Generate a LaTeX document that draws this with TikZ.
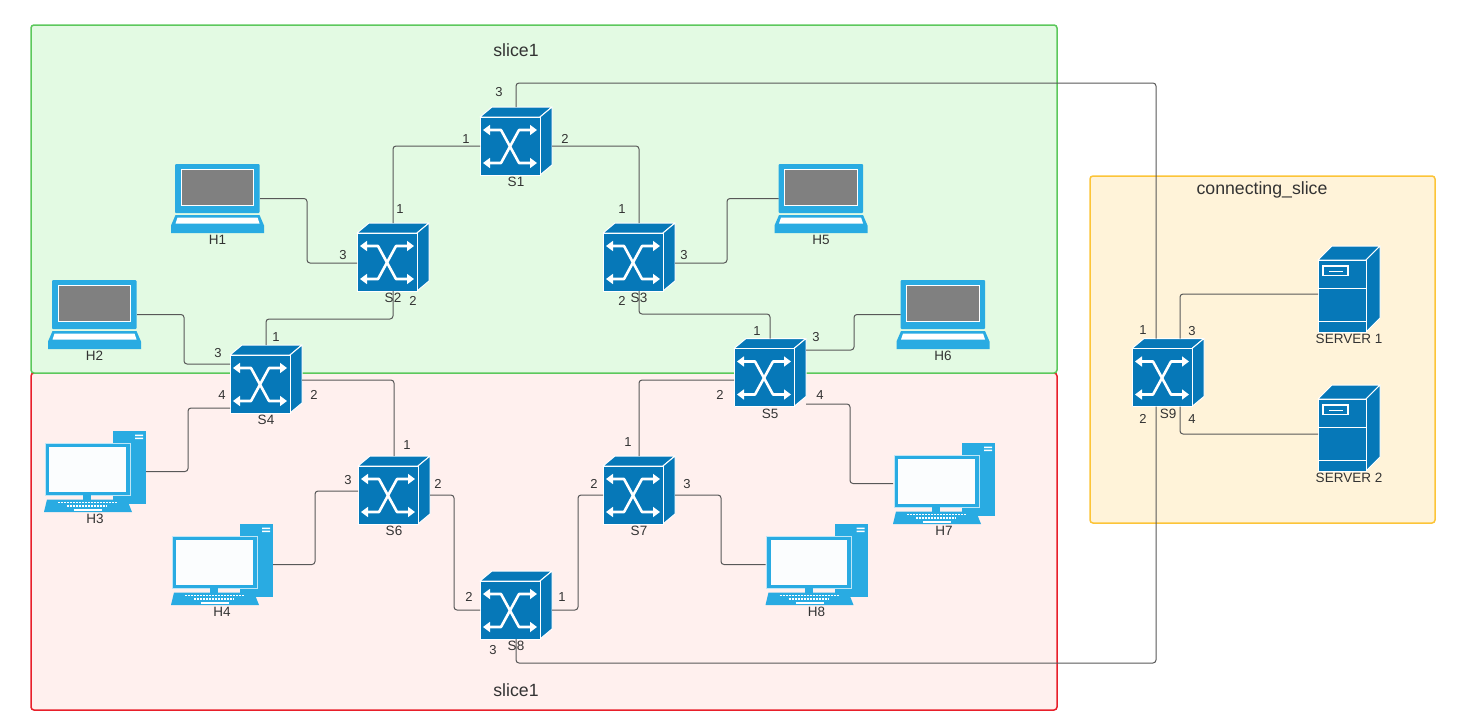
\documentclass[tikz,border=0pt]{standalone}
\usepackage{fontspec}
\setmainfont{Liberation Sans}
\usetikzlibrary{arrows.meta}
\definecolor{devblue}{HTML}{0678B8}
\definecolor{hostblue}{HTML}{29ABE2}
\definecolor{wirecol}{HTML}{585858}
\definecolor{lblcol}{HTML}{333333}
\definecolor{greenfill}{HTML}{E3FAE3}
\definecolor{greenline}{HTML}{5CC85C}
\definecolor{redfill}{HTML}{FFF0EE}
\definecolor{redline}{HTML}{E81F2A}
\definecolor{yellowfill}{HTML}{FFF3D9}
\definecolor{yellowline}{HTML}{FCC438}
\tikzset{
  slicebox/.style={line width=1.5pt,rounded corners=3pt},
  wire/.style={draw=wirecol,line width=1pt,rounded corners=3pt},
  devbox/.style={minimum width=#1,inner sep=0pt,outer sep=0pt},
  devname/.style={font=\fontsize{13.5}{13.5}\selectfont,text=lblcol,inner sep=0pt,label distance=2pt},
  portlbl/.style={font=\fontsize{13}{13}\selectfont,text=lblcol,inner sep=0pt},
  slicelbl/.style={font=\fontsize{17.7}{18}\selectfont,text=lblcol,inner sep=0pt},
  face/.style={fill=devblue,draw=white,line width=1pt,line join=round},
  switcharrow/.style={white,line width=2.6pt,line join=round,{Triangle[width=10pt,length=7pt]}-{Triangle[width=10pt,length=7pt]}},
  switchicon/.pic={
    \path[face] (-36,-24) -- (-24,-34) -- (36,-34) -- (24,-24) -- cycle;
    \path[face] (24,-24) -- (36,-34) -- (36,24) -- (24,34) -- cycle;
    \path[face] (-36,-24) rectangle (24,34);
    \draw[switcharrow] (-33,-11) -- (-15,-11) -- (3,22) -- (21,22);
    \draw[switcharrow] (-33,22) -- (-15,22) -- (3,-11) -- (21,-11);
  },
  servericon/.pic={
    \path[face] (-31,-29) -- (-17,-43) -- (31,-43) -- (17,-29) -- cycle;
    \path[face] (17,-29) -- (31,-43) -- (31,29) -- (17,43) -- cycle;
    \path[face] (-31,-29) rectangle (17,43);
    \draw[white,line width=0.8pt] (-31,-1) -- (17,-1) (-31,32) -- (17,32);
    \draw[white,line width=1.2pt] (-26,-23) rectangle (-1,-13.5);
    \draw[white,line width=0.8pt] (-20,-18) -- (-6,-18);
  },
  laptopicon/.pic={
    \fill[hostblue,rounded corners=1pt] (-42.5,-34.5) rectangle (42,14.5);
    \fill[white] (-37,-29.5) rectangle (36.5,7.5);
    \fill[gray] (-36,-28.5) rectangle (35.5,6.5);
    \fill[hostblue] (-42,16.5) -- (42,16.5) -- (46.5,27) -- (46.5,34.5) -- (-46.5,34.5) -- (-46.5,27) -- cycle;
    \fill[white] (-40,19) -- (40,19) -- (42,25) -- (-42,25) -- cycle;
  },
  desktopicon/.pic={
    \fill[hostblue] (18,-40.5) rectangle (51,32.5);
    \fill[white] (40,-37) rectangle (48,-35.5) (40,-34) rectangle (48,-32.5);
    \draw[white!70!hostblue,line width=0.7pt,fill=hostblue] (-50,-28.5) rectangle (35,23.5);
    \fill[white!98!hostblue] (-46,-25) rectangle (30.5,20.5);
    \fill[hostblue] (-12,23.5) rectangle (-4,28);
    \fill[hostblue] (-48,28) -- (32,28) -- (37,40.5) -- (-51,40.5) -- cycle;
    \draw[white,line width=1.4pt,dash pattern=on 2pt off 1pt] (-37,31) -- (22,31) (-28,34.5) -- (12,34.5);
    \draw[white,line width=1.8pt] (-21,38.5) -- (7,38.5);
  },
}
\newcommand{\switchdev}[3]{
  \node[devbox=72pt,minimum height=68pt,label={[devname]below:#1}] (#1) at (#2,#3) {};
  \pic at (#2,#3) {switchicon};
}
\newcommand{\serverdev}[4]{
  \node[devbox=62pt,minimum height=86pt,label={[devname]below:#2}] (#1) at (#3,#4) {};
  \pic at (#3,#4) {servericon};
}
\newcommand{\laptopdev}[3]{
  \node[devbox=93pt,minimum height=69pt,label={[devname]below:#1}] (#1) at (#2,#3) {};
  \pic at (#2,#3) {laptopicon};
}
\newcommand{\desktopdev}[3]{
  \node[devbox=102pt,minimum height=81pt,label={[devname]below:#1}] (#1) at (#2,#3) {};
  \pic at (#2,#3) {desktopicon};
}
\begin{document}
\begin{tikzpicture}[x=1pt,y=-1pt]
\useasboundingbox (0,0) rectangle (1460,728);

\draw[slicebox,draw=redline,fill=redfill] (31,373) rectangle (1057,710);
\draw[slicebox,draw=greenline,fill=greenfill] (31,25) rectangle (1057,373);
\draw[slicebox,draw=yellowline,fill=yellowfill] (1090,176) rectangle (1435,523);
\node[slicelbl] (slicetop) at (516,50) {slice1};
\node[slicelbl] (slicebottom) at (516,690) {slice1};
\node[slicelbl] (sliceconnect) at (1262,190) {connecting\_slice};

\switchdev{S1}{516}{141}
\switchdev{S2}{393}{257}
\switchdev{S3}{639}{257}
\switchdev{S4}{266}{379}
\switchdev{S5}{770}{372.5}
\switchdev{S6}{394}{490}
\switchdev{S7}{639}{490}
\switchdev{S8}{516}{605}
\switchdev{S9}{1168}{372.5}

\laptopdev{H1}{217.5}{198.5}
\laptopdev{H2}{94.5}{314.5}
\laptopdev{H5}{821}{198.5}
\laptopdev{H6}{943}{314.5}
\desktopdev{H3}{95}{471.5}
\desktopdev{H4}{222}{564.5}
\desktopdev{H7}{944}{483.5}
\desktopdev{H8}{816.5}{564.5}
\serverdev{SRV1}{SERVER 1}{1349}{289}
\serverdev{SRV2}{SERVER 2}{1349}{428}

\draw[wire] ([yshift=-5pt]S1.west) -| (S2.north); %S1
\draw[wire] ([yshift=-5pt]S1.east) -| (S3.north);
\draw[wire] (S1.north) -- ++(0,-24) -| ([xshift=-12pt]S9.north);
\draw[wire] ([xshift=-4pt]H1.east) -- ++(47,0) |- ([yshift=-6pt]S2.west); %S2
\draw[wire] (S2.south) -- ++(0,28) -| (S4.north);
\draw[wire] ([yshift=-6pt]S3.east) -- ++(52,0) |- ([xshift=4pt]H5.west); %S3
\draw[wire] (S3.south) -- ++(0,23) -| (S5.north);
\draw[wire] ([xshift=-4pt]H2.east) -- ++(47,0) |- ([yshift=15pt]S4.west); %S4
\draw[wire] ([yshift=-29pt]S4.west) -- ++(-42,0) |- (H3.east);
\draw[wire] ([yshift=-1pt]S4.east) -| (S6.north);
\draw[wire] ([yshift=22.5pt]S5.east) -- ++(48,0) |- ([xshift=4pt]H6.west); %S5
\draw[wire] ([yshift=-7.5pt]S5.west) -| (S7.north);
\draw[wire] ([yshift=-31.5pt]S5.east) -- ++(44,0) |- (H7.west);
\draw[wire] (H4.east) -- ++(42,0) |- ([yshift=-1pt]S6.west); %S6
\draw[wire] ([yshift=-5pt]S6.east) -- ++(24,0) |- ([yshift=-5pt]S8.west);
\draw[wire] ([yshift=-5pt]S8.east) -- ++(26,0) |- ([yshift=-5pt]S7.west); %S8
\draw[wire] ([yshift=-5pt]S7.east) -- ++(46,0) |- (H8.west); %S7
\draw[wire] (S8.south) -- ++(0,24) -| ([xshift=-12pt]S9.south);
\draw[wire] ([xshift=12pt]S9.north) |- ([yshift=-5pt]SRV1.west); %S9
\draw[wire] ([xshift=12pt]S9.south) |- ([yshift=-6pt]SRV2.west);

\foreach \px/\py/\ptxt [count=\pn] in {499/92/3,466/139/1,565/139/2,
  400/209/1,343/255/3,413/301/2,622/209/1,684/255/3,622/301/2,
  276/337/1,218/353/3,222/395/4,314/395/2,
  757/331/1,816/337/3,720/395/2,820/395/4,
  407/445/1,348/480/3,438/484/2,628/442/1,594/484/2,687/484/3,
  469/597/2,562/597/1,493/650/3,
  1143/330/1,1192/331/3,1143/419/2,1192/419/4}
  \node[portlbl] (port\pn) at (\px,\py) {\ptxt};
\end{tikzpicture}
\end{document}
